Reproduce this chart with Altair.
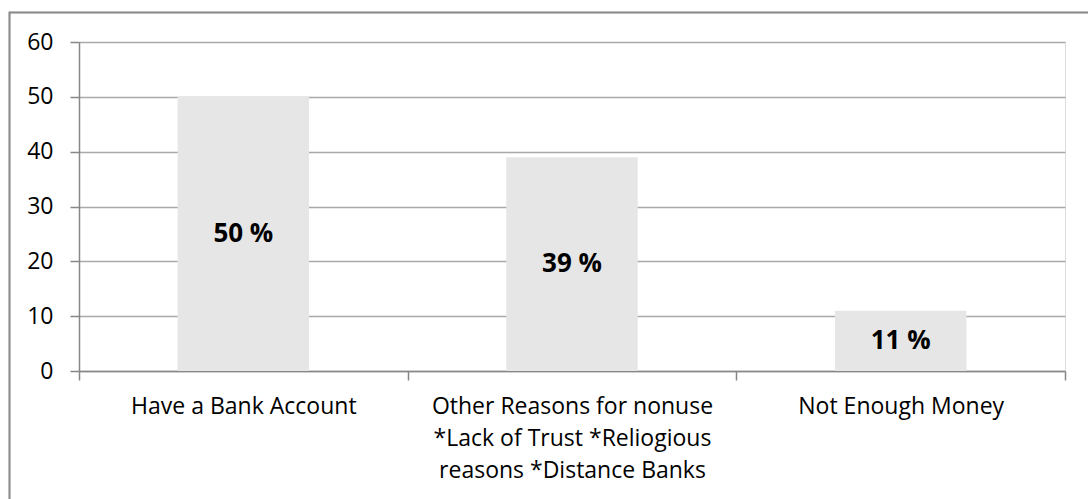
import altair as alt
import pandas as pd

# Survey answers: category names ("|" marks a line break in the axis label)
categories = [
    "Have a Bank Account",
    "Other Reasons for nonuse|*Lack of Trust *Reliogious|reasons *Distance Banks",
    "Not Enough Money",
]
shares = [50, 39, 11]
bar_labels = [f"{v} %" for v in shares]

df = pd.DataFrame({"category": categories, "share": shares, "label": bar_labels})

FONT = "Open Sans"
PLOT_W, PLOT_H = 986, 329
AXIS_GRAY = "#878787"
GRID_GRAY = "#a9a9a9"
TEXT_COLOR = "#000000"

x_enc = alt.X(
    "category:N",
    sort=categories,
    title=None,
    scale=alt.Scale(paddingInner=0, paddingOuter=0),
    axis=alt.Axis(
        labelAngle=0,
        labelExpr="split(datum.label, '|')",
        tickBand="extent",
        labelFont=FONT,
        labelFontSize=23,
        labelColor=TEXT_COLOR,
        labelLineHeight=32,
        labelPadding=15,
        labelLimit=400,
        tickSize=9,
        tickColor=AXIS_GRAY,
        tickWidth=1.5,
        domainColor=AXIS_GRAY,
        domainWidth=1.5,
        grid=False,
    ),
)

y_enc = alt.Y(
    "share:Q",
    title=None,
    scale=alt.Scale(domain=[0, 60], nice=False),
    axis=alt.Axis(
        values=[0, 10, 20, 30, 40, 50, 60],
        labelFont=FONT,
        labelFontSize=23,
        labelColor=TEXT_COLOR,
        labelPadding=17,
        tickSize=9,
        tickColor=AXIS_GRAY,
        tickWidth=1.5,
        domainColor=AXIS_GRAY,
        domainWidth=1.5,
        grid=True,
        gridColor=GRID_GRAY,
        gridWidth=1.5,
    ),
)

# Outer chart frame
frame = alt.Chart(df).mark_rect(
    fillOpacity=0, stroke="#8c8c8c", strokeWidth=1.5
).encode(
    x=alt.value(-69.5), x2=alt.value(1040),
    y=alt.value(-29.5), y2=alt.value(480),
)

bars = alt.Chart(df).mark_bar(
    color="#e6e6e6", width=alt.RelativeBandSize(0.4)
).encode(x=x_enc, y=y_enc)

texts = alt.Chart(df).transform_calculate(
    mid="datum.share / 2"
).mark_text(
    font=FONT, fontSize=26, fontWeight="bold", color=TEXT_COLOR, baseline="middle"
).encode(
    x=alt.X("category:N", sort=categories),
    y=alt.Y("mid:Q"),
    text="label:N",
)

chart = alt.layer(frame, bars, texts).properties(
    width=PLOT_W,
    height=PLOT_H,
    autosize=alt.AutoSizeParams(type="none"),
    padding={"left": 79, "top": 42, "right": 23, "bottom": 128},
).configure_view(stroke=None).configure(background="white")

chart.save("out.html", embed_options={"renderer": "svg", "actions": False})
